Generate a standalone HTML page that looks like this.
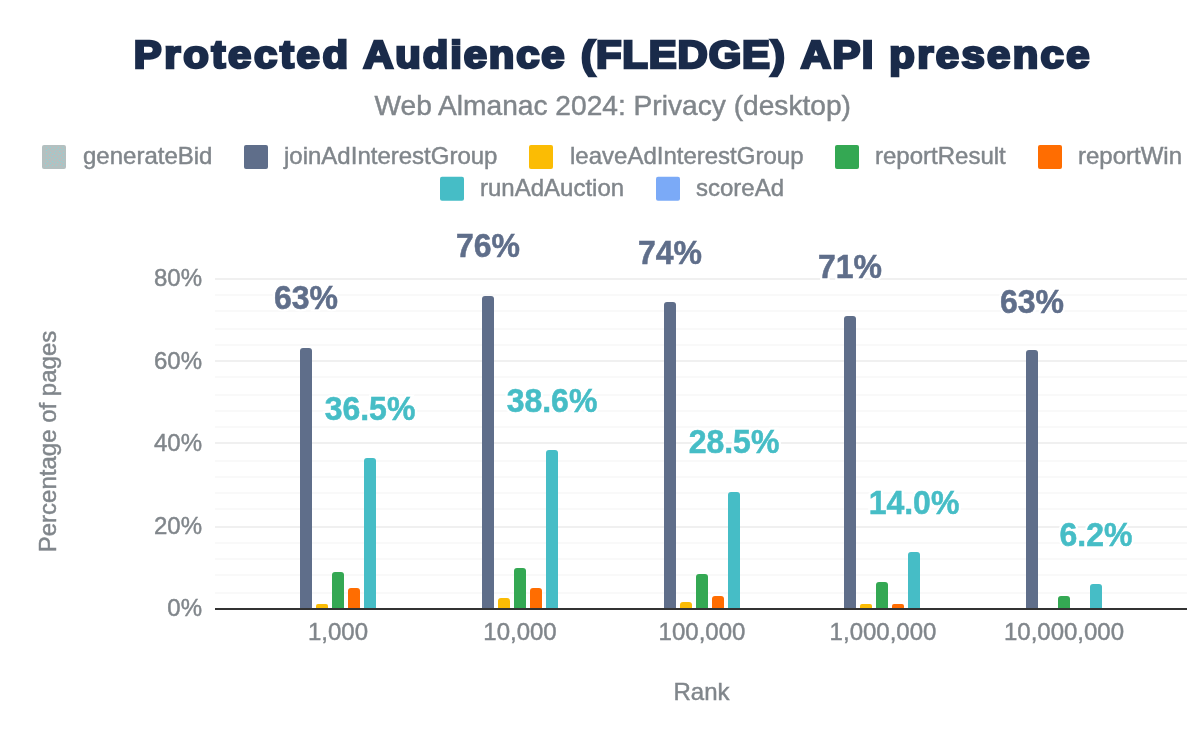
<!DOCTYPE html>
<html><head><meta charset="utf-8">
<style>
html,body{margin:0;padding:0;background:#fff;}
svg{display:block;will-change:transform;}
text{font-family:"Liberation Sans",sans-serif;}
.ax{font-size:24px;fill:#80868b;stroke:#80868b;stroke-width:0.45px;}
.lg{font-size:24px;fill:#80868b;stroke:#80868b;stroke-width:0.45px;}
.dl{font-size:32px;font-weight:bold;stroke-width:0.5px;}
.halo{font-size:32px;font-weight:bold;fill:#fff;stroke:#fff;stroke-width:5px;}
.title{font-size:38px;font-weight:bold;fill:#1a2b4a;stroke:#1a2b4a;stroke-width:2.6px;}
.sub{font-size:28px;fill:#80868b;stroke:#80868b;stroke-width:0.45px;}
</style></head>
<body>
<svg width="1200" height="742" viewBox="0 0 1200 742">
<rect width="1200" height="742" fill="#fff"/>
<text transform="translate(133.8,68) scale(1.1,1)" class="title" style="letter-spacing:2.432px">Protected</text><text transform="translate(363.2,68) scale(1.1,1)" class="title" style="letter-spacing:1.727px">Audience</text><text transform="translate(581.1,68) scale(1.1,1)" class="title" style="letter-spacing:0.831px">(FLEDGE)</text><text transform="translate(800.8,68) scale(1.1,1)" class="title" style="letter-spacing:1.273px">API</text><text transform="translate(889.3,68) scale(1.1,1)" class="title" style="letter-spacing:2.156px">presence</text>
<text x="612.7" y="114.7" text-anchor="middle" class="sub" textLength="476.5" lengthAdjust="spacingAndGlyphs">Web Almanac 2024: Privacy (desktop)</text>
<rect x="42" y="145" width="24" height="24" rx="2" fill="#b4c0c0"/>
<text x="83" y="164.00" class="lg">generateBid</text>
<rect x="244" y="145" width="24" height="24" rx="2" fill="#5f6e8a"/>
<text x="284" y="164.00" class="lg">joinAdInterestGroup</text>
<rect x="529" y="145" width="24" height="24" rx="2" fill="#fbbc04"/>
<text x="570" y="164.00" class="lg">leaveAdInterestGroup</text>
<rect x="835" y="145" width="24" height="24" rx="2" fill="#34a853"/>
<text x="875" y="164.00" class="lg">reportResult</text>
<rect x="1038" y="145" width="24" height="24" rx="2" fill="#ff6d01"/>
<text x="1078" y="164.00" class="lg">reportWin</text>
<rect x="440" y="176.75" width="24" height="24" rx="2" fill="#46bdc6"/>
<text x="480" y="195.75" class="lg">runAdAuction</text>
<rect x="656" y="176.75" width="24" height="24" rx="2" fill="#7baaf7"/>
<text x="696" y="195.75" class="lg">scoreAd</text>
<rect x="46" y="147" width="1" height="1" fill="#8fd2d5"/>
<rect x="50" y="147" width="1" height="1" fill="#8fd2d5"/>
<rect x="54" y="147" width="1" height="1" fill="#8fd2d5"/>
<rect x="58" y="147" width="1" height="1" fill="#8fd2d5"/>
<rect x="62" y="147" width="1" height="1" fill="#8fd2d5"/>
<rect x="48" y="149" width="1" height="1" fill="#8fd2d5"/>
<rect x="52" y="149" width="1" height="1" fill="#8fd2d5"/>
<rect x="57" y="149" width="1" height="1" fill="#8fd2d5"/>
<rect x="60" y="149" width="1" height="1" fill="#8fd2d5"/>
<rect x="63" y="149" width="1" height="1" fill="#8fd2d5"/>
<rect x="46" y="150" width="1" height="1" fill="#8fd2d5"/>
<rect x="55" y="151" width="1" height="1" fill="#8fd2d5"/>
<rect x="59" y="151" width="1" height="1" fill="#8fd2d5"/>
<rect x="50" y="152" width="1" height="1" fill="#8fd2d5"/>
<rect x="63" y="152" width="1" height="1" fill="#8fd2d5"/>
<rect x="46" y="153" width="1" height="1" fill="#8fd2d5"/>
<rect x="54" y="153" width="1" height="1" fill="#8fd2d5"/>
<rect x="60" y="153" width="1" height="1" fill="#8fd2d5"/>
<rect x="52" y="154" width="1" height="1" fill="#8fd2d5"/>
<rect x="58" y="154" width="1" height="1" fill="#8fd2d5"/>
<rect x="49" y="155" width="1" height="1" fill="#8fd2d5"/>
<rect x="63" y="155" width="1" height="1" fill="#8fd2d5"/>
<rect x="46" y="156" width="1" height="1" fill="#8fd2d5"/>
<rect x="55" y="156" width="1" height="1" fill="#8fd2d5"/>
<rect x="51" y="157" width="1" height="1" fill="#8fd2d5"/>
<rect x="61" y="157" width="1" height="1" fill="#8fd2d5"/>
<rect x="57" y="158" width="1" height="1" fill="#8fd2d5"/>
<rect x="46" y="159" width="1" height="1" fill="#8fd2d5"/>
<rect x="49" y="159" width="1" height="1" fill="#8fd2d5"/>
<rect x="54" y="159" width="1" height="1" fill="#8fd2d5"/>
<rect x="63" y="159" width="1" height="1" fill="#8fd2d5"/>
<rect x="59" y="160" width="1" height="1" fill="#8fd2d5"/>
<rect x="47" y="161" width="1" height="1" fill="#8fd2d5"/>
<rect x="52" y="161" width="1" height="1" fill="#8fd2d5"/>
<rect x="61" y="161" width="1" height="1" fill="#8fd2d5"/>
<rect x="54" y="162" width="1" height="1" fill="#8fd2d5"/>
<rect x="57" y="162" width="1" height="1" fill="#8fd2d5"/>
<rect x="63" y="162" width="1" height="1" fill="#8fd2d5"/>
<rect x="45" y="163" width="1" height="1" fill="#8fd2d5"/>
<rect x="50" y="163" width="1" height="1" fill="#8fd2d5"/>
<rect x="60" y="164" width="1" height="1" fill="#8fd2d5"/>
<rect x="48" y="165" width="1" height="1" fill="#8fd2d5"/>
<rect x="52" y="165" width="1" height="1" fill="#8fd2d5"/>
<rect x="56" y="165" width="1" height="1" fill="#8fd2d5"/>
<rect x="63" y="165" width="1" height="1" fill="#8fd2d5"/>
<rect x="46" y="166" width="1" height="1" fill="#8fd2d5"/>
<rect x="215" y="592.00" width="972" height="2" fill="#f9f9f9"/>
<rect x="215" y="574.00" width="972" height="2" fill="#f9f9f9"/>
<rect x="215" y="558.00" width="972" height="2" fill="#f9f9f9"/>
<rect x="215" y="542.00" width="972" height="2" fill="#f9f9f9"/>
<rect x="215" y="526.00" width="972" height="2" fill="#f0f0f0"/>
<rect x="215" y="508.00" width="972" height="2" fill="#f9f9f9"/>
<rect x="215" y="492.00" width="972" height="2" fill="#f9f9f9"/>
<rect x="215" y="476.00" width="972" height="2" fill="#f9f9f9"/>
<rect x="215" y="460.00" width="972" height="2" fill="#f9f9f9"/>
<rect x="215" y="442.00" width="972" height="2" fill="#f0f0f0"/>
<rect x="215" y="426.00" width="972" height="2" fill="#f9f9f9"/>
<rect x="215" y="410.00" width="972" height="2" fill="#f9f9f9"/>
<rect x="215" y="394.00" width="972" height="2" fill="#f9f9f9"/>
<rect x="215" y="376.00" width="972" height="2" fill="#f9f9f9"/>
<rect x="215" y="360.00" width="972" height="2" fill="#f0f0f0"/>
<rect x="215" y="344.00" width="972" height="2" fill="#f9f9f9"/>
<rect x="215" y="328.00" width="972" height="2" fill="#f9f9f9"/>
<rect x="215" y="310.00" width="972" height="2" fill="#f9f9f9"/>
<rect x="215" y="294.00" width="972" height="2" fill="#f9f9f9"/>
<rect x="215" y="278.00" width="972" height="2" fill="#f0f0f0"/>
<path d="M300,608 V351 A3,3 0 0 1 303,348 H309 A3,3 0 0 1 312,351 V608 Z" fill="#5f6e8a"/>
<path d="M316,608 V606.0 A2.0,2.0 0 0 1 318.0,604 H326.0 A2.0,2.0 0 0 1 328,606.0 V608 Z" fill="#fbbc04"/>
<path d="M332,608 V575 A3,3 0 0 1 335,572 H341 A3,3 0 0 1 344,575 V608 Z" fill="#34a853"/>
<path d="M348,608 V591 A3,3 0 0 1 351,588 H357 A3,3 0 0 1 360,591 V608 Z" fill="#ff6d01"/>
<path d="M364,608 V461 A3,3 0 0 1 367,458 H373 A3,3 0 0 1 376,461 V608 Z" fill="#46bdc6"/>
<path d="M482,608 V299 A3,3 0 0 1 485,296 H491 A3,3 0 0 1 494,299 V608 Z" fill="#5f6e8a"/>
<path d="M498,608 V601 A3,3 0 0 1 501,598 H507 A3,3 0 0 1 510,601 V608 Z" fill="#fbbc04"/>
<path d="M514,608 V571 A3,3 0 0 1 517,568 H523 A3,3 0 0 1 526,571 V608 Z" fill="#34a853"/>
<path d="M530,608 V591 A3,3 0 0 1 533,588 H539 A3,3 0 0 1 542,591 V608 Z" fill="#ff6d01"/>
<path d="M546,608 V453 A3,3 0 0 1 549,450 H555 A3,3 0 0 1 558,453 V608 Z" fill="#46bdc6"/>
<path d="M664,608 V305 A3,3 0 0 1 667,302 H673 A3,3 0 0 1 676,305 V608 Z" fill="#5f6e8a"/>
<path d="M680,608 V605 A3,3 0 0 1 683,602 H689 A3,3 0 0 1 692,605 V608 Z" fill="#fbbc04"/>
<path d="M696,608 V577 A3,3 0 0 1 699,574 H705 A3,3 0 0 1 708,577 V608 Z" fill="#34a853"/>
<path d="M712,608 V599 A3,3 0 0 1 715,596 H721 A3,3 0 0 1 724,599 V608 Z" fill="#ff6d01"/>
<path d="M728,608 V495 A3,3 0 0 1 731,492 H737 A3,3 0 0 1 740,495 V608 Z" fill="#46bdc6"/>
<path d="M844,608 V319 A3,3 0 0 1 847,316 H853 A3,3 0 0 1 856,319 V608 Z" fill="#5f6e8a"/>
<path d="M860,608 V606.0 A2.0,2.0 0 0 1 862.0,604 H870.0 A2.0,2.0 0 0 1 872,606.0 V608 Z" fill="#fbbc04"/>
<path d="M876,608 V585 A3,3 0 0 1 879,582 H885 A3,3 0 0 1 888,585 V608 Z" fill="#34a853"/>
<path d="M892,608 V606.0 A2.0,2.0 0 0 1 894.0,604 H902.0 A2.0,2.0 0 0 1 904,606.0 V608 Z" fill="#ff6d01"/>
<path d="M908,608 V555 A3,3 0 0 1 911,552 H917 A3,3 0 0 1 920,555 V608 Z" fill="#46bdc6"/>
<path d="M1026,608 V353 A3,3 0 0 1 1029,350 H1035 A3,3 0 0 1 1038,353 V608 Z" fill="#5f6e8a"/>
<path d="M1058,608 V599 A3,3 0 0 1 1061,596 H1067 A3,3 0 0 1 1070,599 V608 Z" fill="#34a853"/>
<path d="M1090,608 V587 A3,3 0 0 1 1093,584 H1099 A3,3 0 0 1 1102,587 V608 Z" fill="#46bdc6"/>
<rect x="215" y="608" width="972" height="2" fill="#333333"/>
<text x="202" y="616.0" text-anchor="end" class="ax">0%</text>
<text x="202" y="533.5" text-anchor="end" class="ax">20%</text>
<text x="202" y="451.0" text-anchor="end" class="ax">40%</text>
<text x="202" y="368.5" text-anchor="end" class="ax">60%</text>
<text x="202" y="286.0" text-anchor="end" class="ax">80%</text>
<text x="338" y="640" text-anchor="middle" class="ax">1,000</text>
<text x="520" y="640" text-anchor="middle" class="ax">10,000</text>
<text x="702" y="640" text-anchor="middle" class="ax">100,000</text>
<text x="883" y="640" text-anchor="middle" class="ax">1,000,000</text>
<text x="1064" y="640" text-anchor="middle" class="ax">10,000,000</text>
<text transform="translate(306,309) scale(1,1.04)" text-anchor="middle" class="halo">63%</text>
<text transform="translate(306,309) scale(1,1.04)" text-anchor="middle" class="dl" fill="#5f6e8a" stroke="#5f6e8a">63%</text>
<text transform="translate(370,420) scale(1,1.04)" text-anchor="middle" class="halo">36.5%</text>
<text transform="translate(370,420) scale(1,1.04)" text-anchor="middle" class="dl" fill="#46bdc6" stroke="#46bdc6">36.5%</text>
<text transform="translate(488,257) scale(1,1.04)" text-anchor="middle" class="halo">76%</text>
<text transform="translate(488,257) scale(1,1.04)" text-anchor="middle" class="dl" fill="#5f6e8a" stroke="#5f6e8a">76%</text>
<text transform="translate(552,411.5) scale(1,1.04)" text-anchor="middle" class="halo">38.6%</text>
<text transform="translate(552,411.5) scale(1,1.04)" text-anchor="middle" class="dl" fill="#46bdc6" stroke="#46bdc6">38.6%</text>
<text transform="translate(670,263.5) scale(1,1.04)" text-anchor="middle" class="halo">74%</text>
<text transform="translate(670,263.5) scale(1,1.04)" text-anchor="middle" class="dl" fill="#5f6e8a" stroke="#5f6e8a">74%</text>
<text transform="translate(734,453) scale(1,1.04)" text-anchor="middle" class="halo">28.5%</text>
<text transform="translate(734,453) scale(1,1.04)" text-anchor="middle" class="dl" fill="#46bdc6" stroke="#46bdc6">28.5%</text>
<text transform="translate(850,277.5) scale(1,1.04)" text-anchor="middle" class="halo">71%</text>
<text transform="translate(850,277.5) scale(1,1.04)" text-anchor="middle" class="dl" fill="#5f6e8a" stroke="#5f6e8a">71%</text>
<text transform="translate(914,513.5) scale(1,1.04)" text-anchor="middle" class="halo">14.0%</text>
<text transform="translate(914,513.5) scale(1,1.04)" text-anchor="middle" class="dl" fill="#46bdc6" stroke="#46bdc6">14.0%</text>
<text transform="translate(1032,313) scale(1,1.04)" text-anchor="middle" class="halo">63%</text>
<text transform="translate(1032,313) scale(1,1.04)" text-anchor="middle" class="dl" fill="#5f6e8a" stroke="#5f6e8a">63%</text>
<text transform="translate(1096,545.5) scale(1,1.04)" text-anchor="middle" class="halo">6.2%</text>
<text transform="translate(1096,545.5) scale(1,1.04)" text-anchor="middle" class="dl" fill="#46bdc6" stroke="#46bdc6">6.2%</text>
<text x="701.5" y="699.8" text-anchor="middle" class="ax">Rank</text>
<text transform="translate(56,441.5) rotate(-90)" x="0" y="0" text-anchor="middle" class="ax">Percentage of pages</text>
</svg>
</body></html>
